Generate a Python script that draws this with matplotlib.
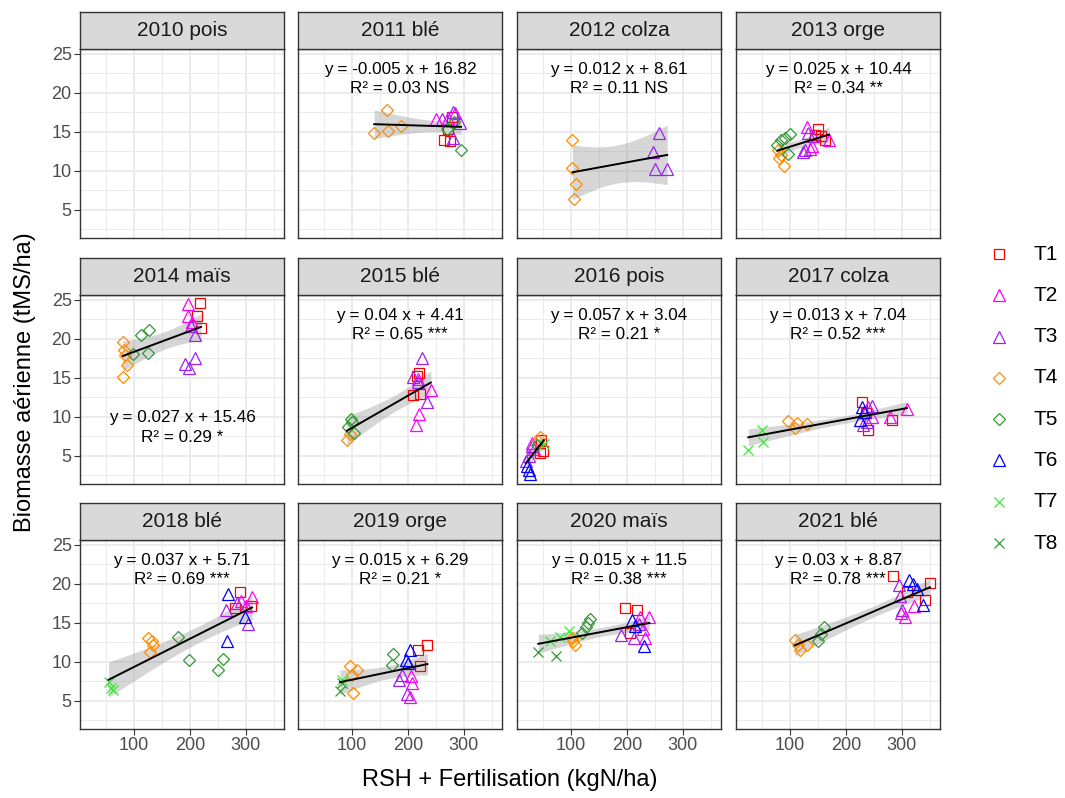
import numpy as np
import matplotlib.pyplot as plt
from matplotlib.lines import Line2D

plt.rcParams['font.family'] = ['Liberation Sans', 'DejaVu Sans']

# panel titles (facet order)
titles = ['2010 pois', '2011 blé', '2012 colza', '2013 orge',
          '2014 maïs', '2015 blé', '2016 pois', '2017 colza',
          '2018 blé', '2019 orge', '2020 maïs', '2021 blé']

# equation labels per panel
eq_labels = ['', 'y = -0.005 x + 16.82', 'y = 0.012 x + 8.61', 'y = 0.025 x + 10.44',
             'y = 0.027 x + 15.46', 'y = 0.04 x + 4.41', 'y = 0.057 x + 3.04', 'y = 0.013 x + 7.04',
             'y = 0.037 x + 5.71', 'y = 0.015 x + 6.29', 'y = 0.015 x + 11.5', 'y = 0.03 x + 8.87']
r2_labels = ['', 'R² = 0.03 NS', 'R² = 0.11 NS', 'R² = 0.34 **',
             'R² = 0.29 *', 'R² = 0.65 ***', 'R² = 0.21 *', 'R² = 0.52 ***',
             'R² = 0.69 ***', 'R² = 0.21 *', 'R² = 0.38 ***', 'R² = 0.78 ***']

# data per panel: N input (kgN/ha), biomass (tMS/ha), treatment
x_2010, y_2010, t_2010 = [], [], []

x_2011 = [162, 140, 164, 188, 251, 285, 272, 281, 261, 293, 281, 279, 265, 275, 272, 295, 270, 282]
y_2011 = [17.8, 14.9, 15.1, 15.7, 16.7, 17.4, 16.8, 17.6, 16.6, 16.1, 14.2, 16.9, 14.0, 13.8, 15.3, 12.7, 15.4, 16.2]
t_2011 = ['T4'] * 4 + ['T2'] * 3 + ['T3'] * 4 + ['T1'] * 4 + ['T5'] * 3

x_2012 = [103, 103, 110, 106, 257, 246, 251, 272]
y_2012 = [14.0, 10.4, 8.3, 6.3, 14.8, 12.4, 10.2, 10.2]
t_2012 = ['T4'] * 4 + ['T3'] * 4

x_2013 = [85, 100, 97, 78, 92, 79, 80, 90, 84, 130, 136, 170, 140, 133, 123, 142, 128, 150, 163, 145, 155]
y_2013 = [14.0, 14.7, 12.2, 13.3, 14.2, 12.7, 11.6, 10.6, 12.0, 15.6, 12.8, 14.0, 13.2, 14.8, 12.4, 14.4, 12.6,
          15.3, 14.0, 14.6, 14.5]
t_2013 = ['T5'] * 5 + ['T4'] * 4 + ['T2'] * 4 + ['T3'] * 4 + ['T1'] * 4

x_2014 = [81, 84, 87, 80, 83, 112, 127, 126, 99, 197, 197, 204, 218, 212, 220, 209, 209, 191, 199, 202]
y_2014 = [19.6, 17.9, 16.7, 15.1, 18.6, 20.5, 21.1, 18.2, 18.1, 24.5, 22.9, 22.2, 24.6, 22.9, 21.4,
          20.5, 17.6, 16.8, 16.2, 21.6]
t_2014 = ['T4'] * 5 + ['T5'] * 4 + ['T2'] * 3 + ['T1'] * 3 + ['T3'] * 5

x_2015 = [99, 94, 104, 101, 91, 96, 220, 210, 222, 216, 225, 209, 234, 219, 241, 220, 215, 218]
y_2015 = [9.7, 8.7, 7.9, 9.3, 7.0, 7.8, 15.6, 12.8, 12.9, 15.2, 17.5, 15.1, 11.9, 14.5, 13.4, 10.3, 8.9, 14.8]
t_2015 = ['T5'] * 4 + ['T4'] * 2 + ['T1'] * 4 + ['T3'] * 4 + ['T2'] * 4

x_2016 = [45, 50, 47, 30, 35, 25, 20, 30, 45, 42, 40, 22, 28, 25, 52]
y_2016 = [5.3, 5.6, 7.0, 6.6, 5.8, 5.0, 4.3, 6.2, 7.4, 6.9, 6.3, 3.6, 2.6, 3.2, 6.5]
t_2016 = ['T1'] * 3 + ['T2'] * 2 + ['T3'] * 3 + ['T4'] * 2 + ['T5'] + ['T6'] * 3 + ['T7']

x_2017 = [26, 50, 52, 97, 112, 130, 109, 228, 282, 240, 236, 228, 225, 232, 246, 231, 238, 309, 279, 246, 240]
y_2017 = [5.7, 8.3, 6.8, 9.4, 9.2, 9.1, 8.5, 11.9, 9.6, 8.3, 10.5, 11.3, 9.6, 10.6, 11.4, 8.9, 9.3,
          11.0, 10.0, 10.0, 11.2]
t_2017 = ['T7'] * 3 + ['T4'] * 4 + ['T1'] * 4 + ['T6'] * 3 + ['T3'] * 3 + ['T2'] * 4

x_2018 = [55, 62, 59, 126, 132, 135, 129, 178, 199, 260, 251, 268, 267, 299, 290, 310, 281, 265, 303, 284,
          311, 301, 292]
y_2018 = [7.4, 6.3, 6.6, 13.0, 12.6, 12.2, 11.2, 13.2, 10.2, 10.3, 8.9, 18.7, 12.6, 15.8, 18.9, 17.1, 16.9,
          16.6, 14.9, 17.6, 18.3, 17.1, 17.8]
t_2018 = ['T7'] * 3 + ['T4'] * 4 + ['T5'] * 4 + ['T6'] * 3 + ['T1'] * 3 + ['T3'] * 3 + ['T2'] * 3

x_2019 = [79, 82, 82, 97, 109, 102, 100, 174, 171, 204, 197, 200, 235, 219, 222, 185, 198, 190, 204, 207, 205]
y_2019 = [6.2, 7.2, 7.7, 9.4, 8.9, 6.0, 8.3, 11.0, 9.6, 11.5, 10.2, 9.8, 12.1, 11.5, 9.4, 7.7, 5.9, 8.3,
          5.5, 7.2, 8.2]
t_2019 = ['T8'] * 2 + ['T7'] + ['T4'] * 4 + ['T5'] * 2 + ['T6'] * 3 + ['T1'] * 3 + ['T3'] * 3 + ['T2'] * 3

x_2020 = [42, 74, 96, 63, 80, 102, 108, 104, 134, 128, 120, 131, 196, 219, 206, 190, 213, 222,
          240, 232, 224, 228, 231, 210, 215]
y_2020 = [11.3, 10.7, 13.9, 12.6, 13.2, 13.0, 12.2, 12.6, 15.5, 14.5, 13.7, 15.0, 16.9, 16.7, 13.7,
          13.4, 13.0, 14.8, 15.7, 13.0, 15.8, 14.2, 12.0, 15.4, 14.6]
t_2020 = ['T8'] * 2 + ['T7'] * 3 + ['T4'] * 3 + ['T5'] * 4 + ['T1'] * 3 + ['T3'] * 3 + ['T2'] * 4 + ['T6'] * 3

x_2021 = [109, 118, 130, 114, 161, 151, 156, 285, 350, 341, 309, 312, 327, 337, 320, 294, 296, 300,
          306, 321, 298]
y_2021 = [12.8, 11.5, 12.2, 12.2, 14.5, 12.6, 13.6, 21.0, 20.1, 17.9, 18.9, 20.5, 19.4, 17.3, 20.0,
          19.9, 18.4, 16.6, 15.8, 17.1, 16.2]
t_2021 = ['T4'] * 4 + ['T5'] * 3 + ['T1'] * 4 + ['T6'] * 4 + ['T3'] * 3 + ['T2'] * 3

panel_x = [x_2010, x_2011, x_2012, x_2013, x_2014, x_2015, x_2016, x_2017, x_2018, x_2019, x_2020, x_2021]
panel_y = [y_2010, y_2011, y_2012, y_2013, y_2014, y_2015, y_2016, y_2017, y_2018, y_2019, y_2020, y_2021]
panel_t = [t_2010, t_2011, t_2012, t_2013, t_2014, t_2015, t_2016, t_2017, t_2018, t_2019, t_2020, t_2021]

treatments = ['T1', 'T2', 'T3', 'T4', 'T5', 'T6', 'T7', 'T8']
colors = {'T1': '#FF0000', 'T2': '#FF00FF', 'T3': '#A020F0', 'T4': '#FF8C00',
          'T5': '#339933', 'T6': '#0000FF', 'T7': '#33EE33', 'T8': '#339933'}
markers = {'T1': 's', 'T2': '^', 'T3': '^', 'T4': 'D',
           'T5': 'D', 'T6': '^', 'T7': 'x', 'T8': 'x'}
msizes = {'s': 7.2, '^': 8.2, 'D': 6.6, 'x': 6.8}


def t975(df):
    # Cornish-Fisher approximation of the 97.5% Student t quantile
    z = 1.959964
    g1 = (z**3 + z) / 4
    g2 = (5 * z**5 + 16 * z**3 + 3 * z) / 96
    g3 = (3 * z**7 + 19 * z**5 + 17 * z**3 - 15 * z) / 384
    return z + g1 / df + g2 / df**2 + g3 / df**3


W, H = 1065, 798
fig = plt.figure(figsize=(W / 100, H / 100), dpi=100)

col_left = [80, 298, 517, 736]
row_top = [49, 295, 540]
pw, ph, sh = 204, 188.6, 37
border = '#333333'

for i, title in enumerate(titles):
    r, c = divmod(i, 4)
    l, t = col_left[c], row_top[r]
    ax = fig.add_axes([l / W, 1 - (t + ph) / H, pw / W, ph / H])
    sax = fig.add_axes([l / W, 1 - t / H, pw / W, sh / H])
    sax.set_facecolor('#D9D9D9')
    sax.set_xticks([])
    sax.set_yticks([])
    for s in sax.spines.values():
        s.set_color(border)
        s.set_linewidth(1.0)
    sax.text(0.5, 0.5, title, ha='center', va='center', fontsize=15, color='#1A1A1A',
             transform=sax.transAxes)

    ax.set_xlim(4, 368)
    ax.set_ylim(1.4, 25.64)
    ax.set_xticks([100, 200, 300])
    ax.set_xticks([50, 150, 250, 350], minor=True)
    ax.set_yticks([5, 10, 15, 20, 25])
    ax.set_yticks([2.5, 7.5, 12.5, 17.5, 22.5], minor=True)
    ax.grid(True, which='major', color='#EBEBEB', lw=1.4, zorder=0)
    ax.grid(True, which='minor', color='#EBEBEB', lw=0.7, zorder=0)
    ax.set_axisbelow(True)
    for s in ax.spines.values():
        s.set_color(border)
        s.set_linewidth(1.0)
    ax.tick_params(which='minor', length=0)
    ax.tick_params(which='major', length=4, color=border, labelsize=13, labelcolor='#4D4D4D', pad=2)
    if c != 0:
        ax.tick_params(axis='y', which='major', length=0, labelleft=False)
    if r != 2:
        ax.tick_params(axis='x', which='major', length=0, labelbottom=False)

    xs = np.array(panel_x[i], dtype=float)
    ys = np.array(panel_y[i], dtype=float)
    ts = panel_t[i]
    if len(xs) == 0:
        continue

    # regression line with 95% confidence band
    b, a = np.polyfit(xs, ys, 1)
    n = len(xs)
    resid = ys - (a + b * xs)
    s_err = np.sqrt(np.sum(resid**2) / (n - 2))
    xg = np.linspace(xs.min(), xs.max(), 80)
    yg = a + b * xg
    se = s_err * np.sqrt(1 / n + (xg - xs.mean())**2 / np.sum((xs - xs.mean())**2))
    tq = t975(n - 2)
    ax.fill_between(xg, yg - tq * se, yg + tq * se, color='#999999', alpha=0.4, lw=0, zorder=2)

    for tr in treatments:
        idx = [k for k, v in enumerate(ts) if v == tr]
        if not idx:
            continue
        m = markers[tr]
        ax.plot(xs[idx], ys[idx], ls='none', marker=m, ms=msizes[m], mfc='none',
                mec=colors[tr], mew=0.9, zorder=3)

    ax.plot(xg, yg, color='black', lw=1.4, zorder=4)

    if title == '2014 maïs':
        ey, ry = 0.348, 0.247
    else:
        ey, ry = 0.889, 0.793
    ax.text(0.5, ey, eq_labels[i], ha='center', va='center', fontsize=12.3, transform=ax.transAxes, zorder=5)
    ax.text(0.5, ry, r2_labels[i], ha='center', va='center', fontsize=12.3, transform=ax.transAxes, zorder=5)

fig.text(25 / W, 1 - 382 / H, 'Biomasse aérienne (tMS/ha)', rotation=90, ha='center', va='center', fontsize=17)
fig.text(510 / W, 1 - 780 / H, 'RSH + Fertilisation (kgN/ha)', ha='center', va='center', fontsize=17)

# legend, drawn by hand so the rows keep the reference spacing
leg_x, leg_y0, leg_dy = 999, 254, 41.3
for k, tr in enumerate(treatments):
    yk = 1 - (leg_y0 + k * leg_dy) / H
    m = markers[tr]
    fig.add_artist(Line2D([leg_x / W], [yk], transform=fig.transFigure, ls='none', marker=m,
                          ms=msizes[m], mfc='none', mec=colors[tr], mew=0.9))
    fig.text(1033 / W, yk, tr, ha='left', va='center', fontsize=15)

fig.savefig('out.png', dpi=100)
